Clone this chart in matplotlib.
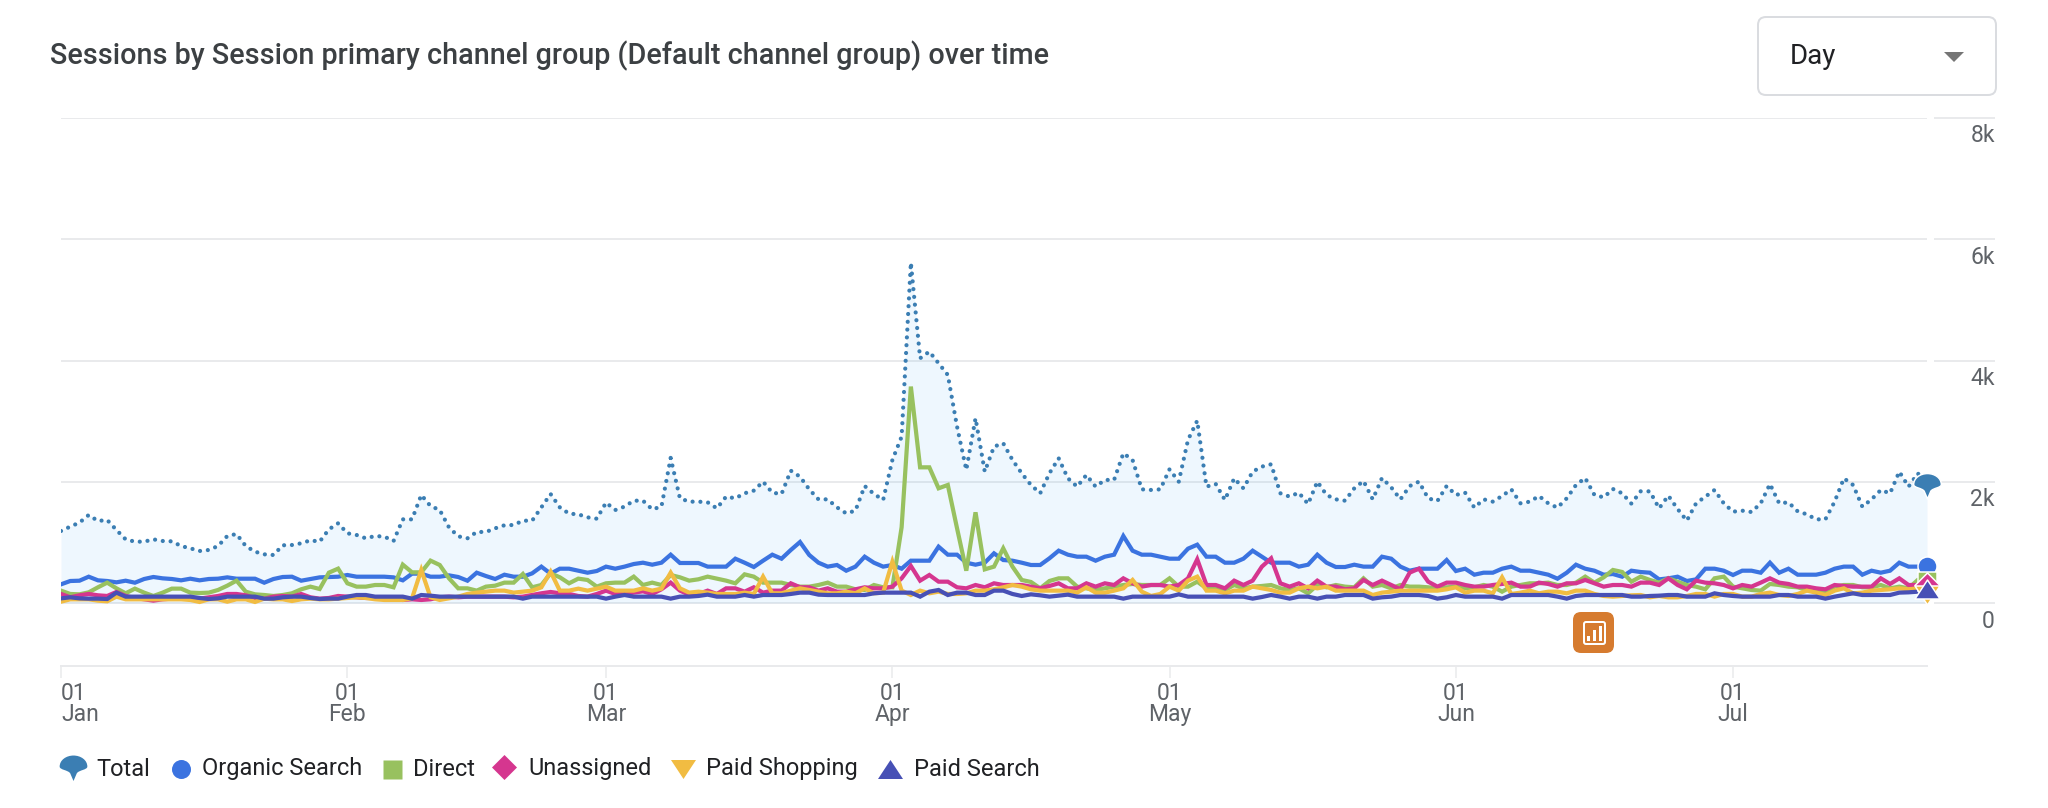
import matplotlib
matplotlib.use('Agg')
import matplotlib.pyplot as plt
from matplotlib.patches import FancyBboxPatch, Polygon, Rectangle
from matplotlib.path import Path
from matplotlib.transforms import blended_transform_factory

plt.rcParams['font.family'] = ['Roboto', 'DejaVu Sans']

# daily sessions, 01 Jan to 22 Jul
total = [
    1188, 1260, 1326, 1452, 1353, 1370, 1205, 1050, 1012, 1012, 1050, 1023, 1017, 940, 902, 858, 875, 940, 1105, 1138,
    940, 847, 803, 792, 952, 957, 985, 1034, 1012, 1215, 1315, 1150, 1122, 1067, 1105,
    1095, 1023, 1380, 1380, 1782, 1600, 1534, 1248, 1100, 1067, 1172, 1172, 1232, 1282, 1287, 1358, 1358, 1578, 1798,
    1578, 1474, 1463, 1413, 1391, 1656, 1534, 1590, 1688, 1688, 1545, 1590, 2393, 1727, 1672,
    1672, 1661, 1562, 1755, 1727, 1810, 1854, 2002, 1820, 1798, 2183, 2084, 1875, 1710, 1710, 1578, 1479, 1523, 1930,
    1800, 1700, 2360, 2745, 5615,
    4037, 4147, 3954, 3762, 2910, 2195, 3047, 2167, 2580, 2635, 2360, 2140, 1947, 1810, 2140, 2387, 2057, 1920, 2112,
    1920, 2030, 2030, 2470, 2360, 1875, 1865, 1875, 2205, 2002, 2690, 3008, 1920, 1964, 1700, 2057, 1892, 2167, 2250,
    2288, 1810, 1755, 1820, 1633, 2002, 1782,
    1710, 1688, 1892, 2013, 1710, 2062, 1908, 1710, 1930, 2002, 1727, 1683, 1930, 1782, 1820, 1573, 1710, 1672, 1765,
    1875, 1644, 1672, 1765, 1644, 1573, 1727, 1947, 2062, 1782, 1743, 1881, 1810, 1639, 1842, 1842,
    1562, 1771, 1551, 1358, 1644, 1754, 1864, 1644, 1507, 1523, 1501, 1644, 1963, 1644, 1661, 1512, 1463, 1380, 1380,
    1672, 2057, 1947, 1589, 1710, 1864, 1809, 2167, 1919, 2139, 1974,
]
organic = [
    308, 363, 368, 434, 374, 363, 341, 368, 335, 396, 429, 407, 396, 374, 401, 374, 396, 401, 423, 401,
    401, 401, 335, 396, 429, 434, 368, 396, 423, 429, 434, 462, 434, 434, 434,
    434, 423, 374, 484, 484, 434, 434, 456, 429, 368, 500, 445, 396, 467, 434, 434, 489, 600, 484, 566,
    566, 533, 500, 528, 600, 566, 600, 643, 665, 632, 665, 797, 660, 660,
    660, 600, 600, 600, 731, 665, 594, 698, 797, 731, 874, 1006, 792, 665, 600, 627, 533, 600, 764, 665,
    600, 627, 566, 698, 698, 698, 929, 797, 797, 665, 632, 665, 819, 709, 698,
    665, 627, 627, 737, 863, 797, 764, 764, 698, 764, 797, 1105, 863, 797, 797, 764, 731, 731, 896, 962,
    764, 764, 665, 665, 731, 863, 764, 665, 665, 665, 600, 632, 797, 665, 594,
    594, 632, 600, 600, 764, 731, 600, 533, 566, 566, 566, 709, 528, 566, 467, 500, 500, 566, 600, 533,
    533, 500, 467, 401, 500, 632, 566, 533, 467, 478, 434, 533, 511, 500,
    390, 407, 434, 363, 390, 566, 566, 533, 462, 533, 533, 500, 665, 500, 566, 467, 467, 467, 500, 566,
    600, 600, 467, 533, 500, 533, 665, 600, 600, 610,
]
direct = [
    204, 149, 143, 176, 259, 336, 242, 160, 237, 171, 116, 171, 237, 237, 171, 165, 171, 215, 286, 369,
    187, 143, 132, 116, 132, 160, 226, 270, 231, 501, 567, 325, 270, 270, 297,
    297, 259, 633, 506, 506, 699, 627, 407, 242, 242, 204, 270, 286, 336, 336, 479, 259, 297, 490, 424,
    325, 402, 380, 270, 325, 336, 336, 435, 297, 336, 297, 462, 424, 369,
    391, 435, 402, 369, 325, 473, 435, 336, 336, 336, 297, 270, 270, 297, 336, 270, 270, 226, 215, 297, 259, 259,
    1250, 3570, 2238, 2238, 1892, 1947, 1232, 533, 1496, 555, 600, 902, 600,
    380, 347, 242, 363, 407, 407, 270, 242, 215, 242, 270, 297, 314, 297, 297, 297, 407, 270, 270, 352,
    242, 242, 215, 297, 242, 270, 281, 297, 242, 215, 242, 160, 297, 259, 297,
    270, 259, 407, 270, 297, 242, 297, 270, 270, 259, 242, 259, 270, 242, 259, 297, 270, 187, 270, 297,
    325, 325, 336, 297, 297, 336, 435, 336, 424, 545, 512, 352, 435, 380,
    336, 407, 352, 297, 270, 226, 407, 435, 270, 242, 215, 204, 314, 297, 270, 259, 215, 187, 171, 270,
    297, 297, 259, 259, 297, 242, 270, 242, 380, 360,
]
unassigned = [
    149, 94, 127, 149, 127, 116, 182, 116, 83, 61, 39, 61, 72, 83, 83, 72, 94, 116, 149, 149,
    127, 83, 72, 105, 116, 105, 149, 94, 72, 83, 116, 105, 94, 83, 83,
    83, 83, 50, 61, 50, 61, 94, 105, 94, 105, 105, 105, 105, 105, 94,
    105, 132, 160, 182, 160, 149, 116, 105, 149, 204, 149, 149, 171, 193, 149, 226, 336, 204, 138,
    149, 204, 149, 242, 242, 187, 259, 171, 204, 204, 325, 259, 259, 204, 242, 187, 187, 226, 259, 242,
    242, 270, 407, 611, 369, 462, 352, 352, 259, 242, 297, 259, 325, 297, 297,
    297, 270, 242, 281, 325, 242, 242, 325, 270, 325, 297, 407, 325, 270, 297, 297, 270, 297, 407, 721,
    297, 297, 242, 369, 297, 369, 600, 737, 325, 270, 325, 242, 369, 270, 270,
    226, 242, 380, 297, 369, 297, 226, 501, 567, 352, 270, 336, 336, 297, 270, 270, 297, 314, 336, 270,
    270, 336, 314, 270, 325, 325, 380, 325, 270, 297, 297, 270, 336, 336,
    297, 407, 297, 226, 369, 336, 325, 297, 242, 297, 270, 336, 407, 336, 314, 270, 270, 242, 226, 297,
    281, 270, 270, 270, 407, 314, 407, 297, 297, 297,
]
paid_shopping = [
    22, 61, 61, 61, 39, 28, 105, 61, 61, 61, 61, 61, 61, 61, 50, 17, 61, 61, 22, 61,
    61, 17, 72, 61, 61, 33, 61, 72, 61, 61, 72, 83, 94, 83, 61,
    50, 50, 50, 77, 545, 94, 50, 77, 105, 149, 171, 187, 204, 204, 171, 187, 204, 259, 517, 204,
    204, 237, 204, 237, 270, 204, 204, 204, 242, 204, 237, 501, 242, 171,
    187, 171, 149, 149, 149, 171, 149, 435, 160, 160, 204, 242, 215, 187, 160, 160, 187, 160, 242, 160,
    171, 682, 204, 132, 204, 160, 187, 149, 149, 160, 204, 204, 226, 259, 297,
    270, 226, 204, 204, 204, 204, 171, 259, 171, 171, 204, 242, 380, 187, 116, 149, 270, 204, 369, 435,
    204, 204, 160, 204, 204, 270, 242, 215, 171, 171, 242, 270, 242, 270, 204,
    204, 204, 204, 132, 171, 187, 204, 204, 204, 204, 204, 226, 259, 171, 204, 204, 160, 424, 149, 171,
    204, 160, 187, 187, 160, 204, 204, 149, 116, 105, 116, 127, 132, 94,
    116, 94, 94, 116, 149, 149, 105, 149, 149, 105, 105, 149, 171, 132, 116, 149, 204, 171, 132, 204,
    242, 160, 171, 204, 215, 226, 242, 226, 242, 132,
]
paid_search = [
    77, 94, 77, 72, 72, 66, 171, 105, 105, 105, 105, 105, 105, 105, 105, 83, 66, 77, 105, 105,
    105, 105, 72, 72, 94, 105, 105, 83, 66, 72, 72, 105, 132, 132, 105,
    105, 105, 105, 72, 132, 121, 105, 105, 105, 105, 105, 105, 105, 105, 105, 72, 105, 105, 105, 105,
    105, 105, 105, 105, 72, 105, 132, 105, 105, 105, 105, 72, 105, 105,
    116, 138, 105, 105, 105, 132, 105, 132, 132, 132, 149, 171, 171, 138, 132, 132, 132, 132, 132, 160,
    171, 171, 171, 171, 105, 187, 215, 132, 171, 171, 132, 132, 204, 204, 149,
    116, 143, 127, 105, 121, 138, 105, 105, 105, 105, 105, 72, 105, 105, 105, 105, 105, 143, 105, 105,
    105, 105, 105, 105, 105, 72, 99, 132, 105, 72, 105, 105, 72, 105, 105,
    132, 132, 132, 72, 94, 105, 132, 132, 132, 116, 72, 94, 132, 105, 105, 105, 105, 72, 132, 132,
    132, 132, 132, 105, 72, 116, 132, 132, 132, 132, 132, 105, 105, 116,
    121, 132, 132, 105, 105, 105, 160, 132, 116, 105, 105, 105, 105, 132, 132, 105, 105, 105, 72, 105,
    132, 160, 132, 132, 132, 132, 171, 176, 187, 236,
]
days = list(range(len(total)))

month_days = [0, 31, 59, 90, 120, 151, 181]
month_labels = ['01\nJan', '01\nFeb', '01\nMar', '01\nApr', '01\nMay', '01\nJun', '01\nJul']
y_ticks = [0, 2000, 4000, 6000, 8000]
y_labels = ['0', '2k', '4k', '6k', '8k']

legend_names = ['Total', 'Organic Search', 'Direct', 'Unassigned', 'Paid Shopping', 'Paid Search']
TOTAL_C = '#3b7eb3'
ORGANIC_C = '#3b73e0'
DIRECT_C = '#98c15f'
UNASSIGNED_C = '#d5368f'
SHOPPING_C = '#f1bc42'
SEARCH_C = '#4750b5'
GRID_C = '#e9eaec'
TEXT_C = '#5f6368'
W, H = 2048, 808


def px(n):
    # pixels to points at dpi 100
    return n * 0.72


# marker shapes
pin = Path(
    [(-12.5, -1), (-12.5, 5), (-6.5, 9), (0, 9), (6.5, 9), (12.5, 5), (12.5, -1), (12.5, -4), (5, -4), (3, -7),
     (2, -9), (1, -12), (0, -14), (-1, -12), (-2, -9), (-3, -7), (-5, -4), (-12.5, -4), (-12.5, -1), (-12.5, -1)],
    [Path.MOVETO] + [Path.CURVE4] * 18 + [Path.CLOSEPOLY])
tri_up = Path([(-12.5, -9.5), (12.5, -9.5), (0, 9.5), (-12.5, -9.5)], closed=True)
tri_down = Path([(-12.5, 9.5), (12.5, 9.5), (0, -9.5), (-12.5, 9.5)], closed=True)
diamond = Path([(0, 12.5), (12.5, 0), (0, -12.5), (-12.5, 0), (0, 12.5)], closed=True)

marker_specs = [
    (pin, TOTAL_C, 31),
    ('o', ORGANIC_C, 19),
    ('s', DIRECT_C, 19),
    (diamond, UNASSIGNED_C, 25),
    (tri_down, SHOPPING_C, 25),
    (tri_up, SEARCH_C, 25),
]

fig = plt.figure(figsize=(W / 100, H / 100), dpi=100, facecolor='white')

# plot area: x 61-1927, y 118-666
ax = fig.add_axes([61 / W, 1 - 666 / H, (1927 - 61) / W, (666 - 118) / H])
ax.set_xlim(0, 202)
ax.set_ylim(-1039, 8000)
ax.patch.set_visible(False)
for side in ['top', 'left', 'right']:
    ax.spines[side].set_visible(False)
ax.spines['bottom'].set_color(GRID_C)
ax.spines['bottom'].set_linewidth(px(2))

ax.set_yticks(y_ticks)
ax.set_yticklabels([])
ax.tick_params(axis='y', length=0)
ax.grid(axis='y', color=GRID_C, linewidth=px(2), zorder=0)
ax.set_axisbelow(True)

ax.set_xticks(month_days)
ax.set_xticklabels(month_labels, fontsize=16.5, color=TEXT_C, linespacing=0.88)
ax.tick_params(axis='x', length=px(12), width=px(1.5), color=GRID_C, pad=px(4))
ax.get_xticklabels()[0].set_ha('left')

# bits of grid and labels on the right side
trans = blended_transform_factory(ax.transAxes, ax.transData)
for val, lab in zip(y_ticks, y_labels):
    ax.plot([1.0043, 1.0359], [val, val], transform=trans, color=GRID_C, lw=px(2), clip_on=False, zorder=1)
    ax.annotate(lab, (1.0364, val), xycoords=trans, xytext=(0, -18), textcoords='offset pixels',
                ha='right', va='center', fontsize=16.5, color=TEXT_C)

ax.fill_between(days, 0, total, color='#4aa8f5', alpha=0.09, linewidth=0, zorder=2)
ax.plot(days, total, color=TOTAL_C, lw=px(4.2), linestyle=(0, (0.01, 1.85)), dash_capstyle='round', zorder=3)
series = [organic, direct, unassigned, paid_shopping, paid_search]
colors = [ORGANIC_C, DIRECT_C, UNASSIGNED_C, SHOPPING_C, SEARCH_C]
for i, (vals, c) in enumerate(zip(series, colors)):
    ax.plot(days, vals, color=c, lw=px(4.2), solid_joinstyle='miter', zorder=4 + i)

# markers on the last day
for i, (vals, spec) in enumerate(zip([total] + series, marker_specs)):
    ax.plot(days[-1], vals[-1], marker=spec[0], color=spec[1], ms=px(spec[2]), mec='white', mew=px(1.5),
            clip_on=False, linestyle='none', zorder=10 + i)

# everything else in pixel coordinates
ui = fig.add_axes([0, 0, 1, 1])
ui.set_xlim(0, W)
ui.set_ylim(H, 0)
ui.axis('off')
ui.patch.set_visible(False)

ui.text(50, 56, 'Sessions by Session primary channel group (Default channel group) over time',
        fontsize=20.7, fontweight='medium', color='#3c4043', va='center', ha='left')

ui.add_patch(FancyBboxPatch((1758, 17), 238, 78, boxstyle='round,pad=0,rounding_size=8',
                            fc='white', ec='#dadce0', lw=px(2)))
ui.text(1790, 57, 'Day', fontsize=20, color='#202124', va='center', ha='left')
ui.add_patch(Polygon([(1944, 52), (1964, 52), (1954, 62)], closed=True, fc='#757575', ec='none'))

# annotation badge
ui.add_patch(FancyBboxPatch((1573, 612), 41, 41, boxstyle='round,pad=0,rounding_size=8', fc='#d67b2f', ec='none'))
ui.add_patch(FancyBboxPatch((1584, 622), 21, 22, boxstyle='round,pad=0,rounding_size=2',
                            fc='none', ec='white', lw=px(2)))
ui.add_patch(Rectangle((1587, 636), 2.5, 5, fc='white', ec='none'))
ui.add_patch(Rectangle((1593, 630), 2.5, 11, fc='white', ec='none'))
ui.add_patch(Rectangle((1599, 626), 2.5, 15, fc='white', ec='none'))

# legend
marker_x = [73, 181, 392, 504, 683, 890]
marker_y = [765, 769, 769, 767, 769, 769]
text_x = [96, 202, 413, 528, 706, 914]
for name, mx, my, tx, spec in zip(legend_names, marker_x, marker_y, text_x, marker_specs):
    ui.plot(mx, my, marker=spec[0], color=spec[1], ms=px(spec[2]), mec='none', linestyle='none')
    ui.text(tx, 769, name, fontsize=17, color='#202124', va='center', ha='left')

fig.savefig('out.png', dpi=100, facecolor='white')
